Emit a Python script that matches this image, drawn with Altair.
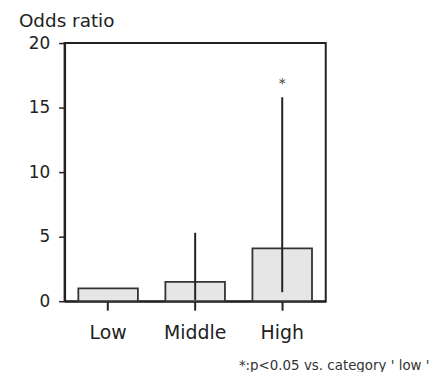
import altair as alt
import pandas as pd

categories = ["Low", "Middle", "High"]
odds = [1.0, 1.5, 4.1]
ci_low = [None, 0.1, 0.7]
ci_high = [None, 5.3, 15.8]
stars = ["", "", "*"]
star_y = [None, None, 16.8]

df = pd.DataFrame({"cat": categories, "odds": odds, "lo": ci_low, "hi": ci_high,
                   "star": stars, "sy": star_y})

FONT = "DejaVu Sans"
xscale = alt.Scale(domain=categories, paddingInner=0, paddingOuter=0)
yscale = alt.Scale(domain=[0, 20], nice=False)

x = alt.X("cat:N", scale=xscale, sort=categories,
          axis=alt.Axis(title="*:p<0.05 vs. category ' low '", titleFont=FONT,
                        titleFontSize=13.5, titleFontWeight="normal", titleColor="#333",
                        titleAlign="right", titleAnchor="end", titleX=367, titleY=65,
                        titleBaseline="middle",
                        labelAngle=0, labelFont=FONT, labelFontSize=19, labelColor="#222",
                        labelPadding=14, tickSize=9, tickWidth=2, tickColor="#222",
                        domainColor="#222", domainWidth=2))

bars = alt.Chart(df).mark_bar(width=60, fill="#e6e6e6", stroke="#333", strokeWidth=1.8).encode(
    x=x,
    y=alt.Y("odds:Q", scale=yscale,
            axis=alt.Axis(title=None, values=[0, 5, 10, 15, 20], labelFont=FONT,
                          labelFontSize=17, labelColor="#222", labelPadding=9,
                          tickSize=6, tickWidth=1.5, tickColor="#222",
                          domainColor="#222", domainWidth=2, grid=False)),
)

err = alt.Chart(df).mark_rule(color="#222", strokeWidth=2).encode(
    x=alt.X("cat:N", scale=xscale, sort=categories),
    y=alt.Y("lo:Q", scale=yscale),
    y2="hi:Q",
)

star = alt.Chart(df).mark_text(font=FONT, fontSize=14, color="#444").encode(
    x=alt.X("cat:N", scale=xscale, sort=categories),
    y=alt.Y("sy:Q", scale=yscale),
    text="star:N",
)

chart = (bars + err + star).properties(
    width=263, height=260,
    title=alt.TitleParams("Odds ratio", anchor="start", frame="group", dx=-46, font=FONT,
                          fontSize=18.5, fontWeight="normal", color="#222", offset=4),
    autosize="none",
    padding={"left": 57, "top": 34, "right": 104, "bottom": 70},
).configure_view(stroke="#222", strokeWidth=2)

chart.save("out.html", embed_options={"renderer": "svg", "actions": False})
